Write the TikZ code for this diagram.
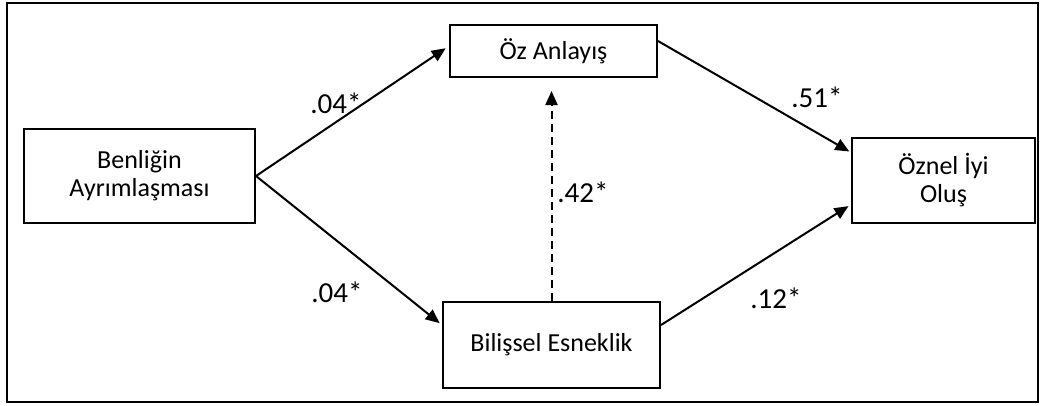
\documentclass[tikz,border=0pt]{standalone}
\usepackage{fontspec}
\setmainfont{Carlito}
\usetikzlibrary{arrows.meta}
\tikzset{
  box/.style={draw, line width=2pt, align=center, inner sep=0pt, font=\fontsize{26}{28}\selectfont},
  arr/.style={-{Triangle[length=14pt,width=12pt]}, line width=2pt},
  coef/.style={font=\fontsize{29}{34}\selectfont, inner sep=0pt}}

\begin{document}
\begin{tikzpicture}[x=1pt,y=-1pt]
\useasboundingbox (0,0) rectangle (1040,405);
\draw[line width=2pt] (7,3) rectangle (1038,402);
% variables
\node[box, minimum width=231pt, minimum height=94pt] (ben) at (139.5,176) {Benliğin\\Ayrımlaşması};
\node[box, minimum width=207pt, minimum height=52pt] (oz) at (553.5,51) {Öz Anlayış};
\node[box, minimum width=217pt, minimum height=86pt] (bil) at (551.5,345) {Bilişsel Esneklik};
\node[box, minimum width=183pt, minimum height=85pt] (iyi) at (943.5,180.5) {Öznel İyi\\Oluş};
% paths
\draw[arr, shorten >=4pt] (ben.east) -- ([yshift=5pt]oz.west);
\draw[arr, shorten >=3pt] (ben.east) -- ([yshift=20pt]bil.west);
\draw[arr, shorten >=2pt] ([yshift=10pt]oz.east) -- ([yshift=28pt]iyi.west);
\draw[arr, shorten >=3pt] ([yshift=20pt]bil.east) -- ([yshift=-24pt]iyi.west);
\draw[arr, dash pattern=on 8pt off 5pt, shorten >=13pt] (bil.north) -- (bil.north |- oz.south);
% coefficients
\node[coef] (c1) at (336,103) {.04*};
\node[coef] (c2) at (337,292) {.04*};
\node[coef] (c3) at (583,192) {.42*};
\node[coef] (c4) at (817,97) {.51*};
\node[coef] (c5) at (776,298) {.12*};
\end{tikzpicture}
\end{document}
